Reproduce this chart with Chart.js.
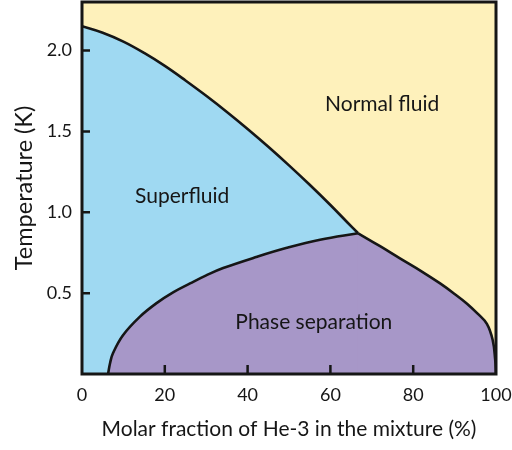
<!DOCTYPE html>
<html>
<head>
<meta charset="utf-8">
<script src="https://cdn.jsdelivr.net/npm/chart.js@4.4.1/dist/chart.umd.min.js"></script>
<style>
  html, body { margin: 0; padding: 0; background: #fff; }
  #wrap { width: 512px; height: 450px; }
</style>
</head>
<body>
<div id="wrap"><canvas id="phase"></canvas></div>
<script>
// He-3 / He-4 mixture phase diagram
const lambdaX = [0, 5, 10, 15, 20, 25, 30, 35, 40, 45, 50, 55, 60, 64, 66.7];
const lambdaT = [2.15, 2.11, 2.055, 1.985, 1.905, 1.815, 1.72, 1.62, 1.515, 1.405, 1.29, 1.17, 1.045, 0.94, 0.87];

// phase separation boundary, He-4 rich side up to the tricritical point
const sepLeftX = [6.3, 6.8, 7.5, 9.9, 14, 18.1, 22, 26.1, 30, 34.1, 42.3, 49.5, 57.5, 66.7];
const sepLeftT = [0, 0.07, 0.13, 0.24, 0.355, 0.44, 0.505, 0.56, 0.61, 0.655, 0.725, 0.78, 0.83, 0.87];

// He-3 rich side, from the tricritical point down to pure He-3
const sepRightX = [66.7, 72, 76.8, 82, 86.5, 90, 93, 95.5, 97.8, 99.2, 99.8, 100];
const sepRightT = [0.87, 0.79, 0.715, 0.635, 0.56, 0.495, 0.435, 0.375, 0.31, 0.21, 0.09, 0];

const xTicks = [0, 20, 40, 60, 80, 100];
const yTicks = [0.5, 1.0, 1.5, 2.0];

const regionNames = ['Normal fluid', 'Superfluid', 'Phase separation'];
const regionX = [72.5, 24.2, 56];
const regionT = [1.67, 1.10, 0.32];

const YELLOW = '#fef1bb';
const BLUE = '#9fd9f2';
const PURPLE = '#a797c8';
const INK = '#161616';
const FONT = 'Lato';

const toPoints = (xs, ys) => xs.map((x, i) => ({ x: x, y: ys[i] }));

const curve = (label, xs, ys, color, order) => ({
    label: label,
    data: toPoints(xs, ys),
    borderColor: INK,
    borderWidth: 2.6,
    backgroundColor: color,
    fill: 'origin',
    pointRadius: 0,
    tension: 0.4,
    order: order,
});

// yellow normal-fluid background, frame, inward ticks and region names
const diagramDecor = {
    id: 'diagramDecor',
    beforeDraw(chart) {
        const { ctx, chartArea: a } = chart;
        ctx.save();
        ctx.fillStyle = YELLOW;
        ctx.fillRect(a.left, a.top, a.right - a.left, a.bottom - a.top);
        ctx.restore();
    },
    beforeDatasetsDraw(chart) {
        // the two purple fills meet at the tricritical point; close the gap between them
        const { ctx, scales } = chart;
        const px = scales.x.getPixelForValue(sepRightX[0]);
        ctx.save();
        ctx.strokeStyle = PURPLE;
        ctx.lineWidth = 2;
        ctx.beginPath();
        ctx.moveTo(px, scales.y.getPixelForValue(0));
        ctx.lineTo(px, scales.y.getPixelForValue(sepRightT[0]) + 2);
        ctx.stroke();
        ctx.restore();
    },
    afterDatasetsDraw(chart) {
        const { ctx, chartArea: a, scales } = chart;
        ctx.save();
        ctx.strokeStyle = INK;
        ctx.lineWidth = 2.5;
        ctx.beginPath();
        xTicks.slice(1, -1).forEach(v => {
            const px = scales.x.getPixelForValue(v);
            ctx.moveTo(px, a.bottom);
            ctx.lineTo(px, a.bottom - 9);
        });
        yTicks.forEach(v => {
            const py = scales.y.getPixelForValue(v);
            ctx.moveTo(a.left, py);
            ctx.lineTo(a.left + 8, py);
        });
        ctx.stroke();
        ctx.lineWidth = 3;
        ctx.strokeRect(a.left, a.top, a.right - a.left, a.bottom - a.top);

        ctx.fillStyle = INK;
        ctx.font = '21px "' + FONT + '"';
        ctx.textAlign = 'center';
        ctx.textBaseline = 'middle';
        regionNames.forEach((name, i) => {
            ctx.fillText(name, scales.x.getPixelForValue(regionX[i]), scales.y.getPixelForValue(regionT[i]));
        });
        ctx.restore();
    }
};

new Chart(document.getElementById('phase'), {
    type: 'line',
    data: {
        datasets: [
            curve('Lambda line', lambdaX, lambdaT, BLUE, 3),
            curve('Separation (He-4 side)', sepLeftX, sepLeftT, PURPLE, 2),
            curve('Separation (He-3 side)', sepRightX, sepRightT, PURPLE, 1),
        ]
    },
    options: {
        responsive: true,
        maintainAspectRatio: false,
        animation: false,
        layout: { padding: { top: 2, right: 16, bottom: 0, left: 0 } },
        plugins: {
            legend: { display: false },
            tooltip: { enabled: false },
            filler: { drawTime: 'beforeDatasetsDraw' },
        },
        scales: {
            x: {
                type: 'linear',
                min: 0,
                max: 100,
                afterBuildTicks: s => { s.ticks = xTicks.map(v => ({ value: v })); },
                afterFit: s => { s.height = 76; s.paddingLeft = 0; s.paddingRight = 0; },
                grid: { display: false, drawTicks: false },
                border: { display: false },
                ticks: { color: INK, padding: 10, font: { family: FONT, size: 18 } },
                title: {
                    display: true,
                    text: 'Molar fraction of He-3 in the mixture (%)',
                    color: INK,
                    font: { family: FONT, size: 21 },
                    padding: { top: 0, bottom: 8 },
                },
            },
            y: {
                min: 0,
                max: 2.3,
                afterBuildTicks: s => { s.ticks = yTicks.map(v => ({ value: v })); },
                afterFit: s => { s.width = 82; s.paddingTop = 0; s.paddingBottom = 0; },
                grid: { display: false, drawTicks: false },
                border: { display: false },
                ticks: {
                    color: INK,
                    padding: 10,
                    font: { family: FONT, size: 18 },
                    callback: v => v.toFixed(1),
                },
                title: {
                    display: true,
                    text: 'Temperature (K)',
                    color: INK,
                    font: { family: FONT, size: 23.5 },
                    padding: { top: 10, bottom: 0 },
                },
            },
        },
    },
    plugins: [diagramDecor],
});
</script>
</body>
</html>
